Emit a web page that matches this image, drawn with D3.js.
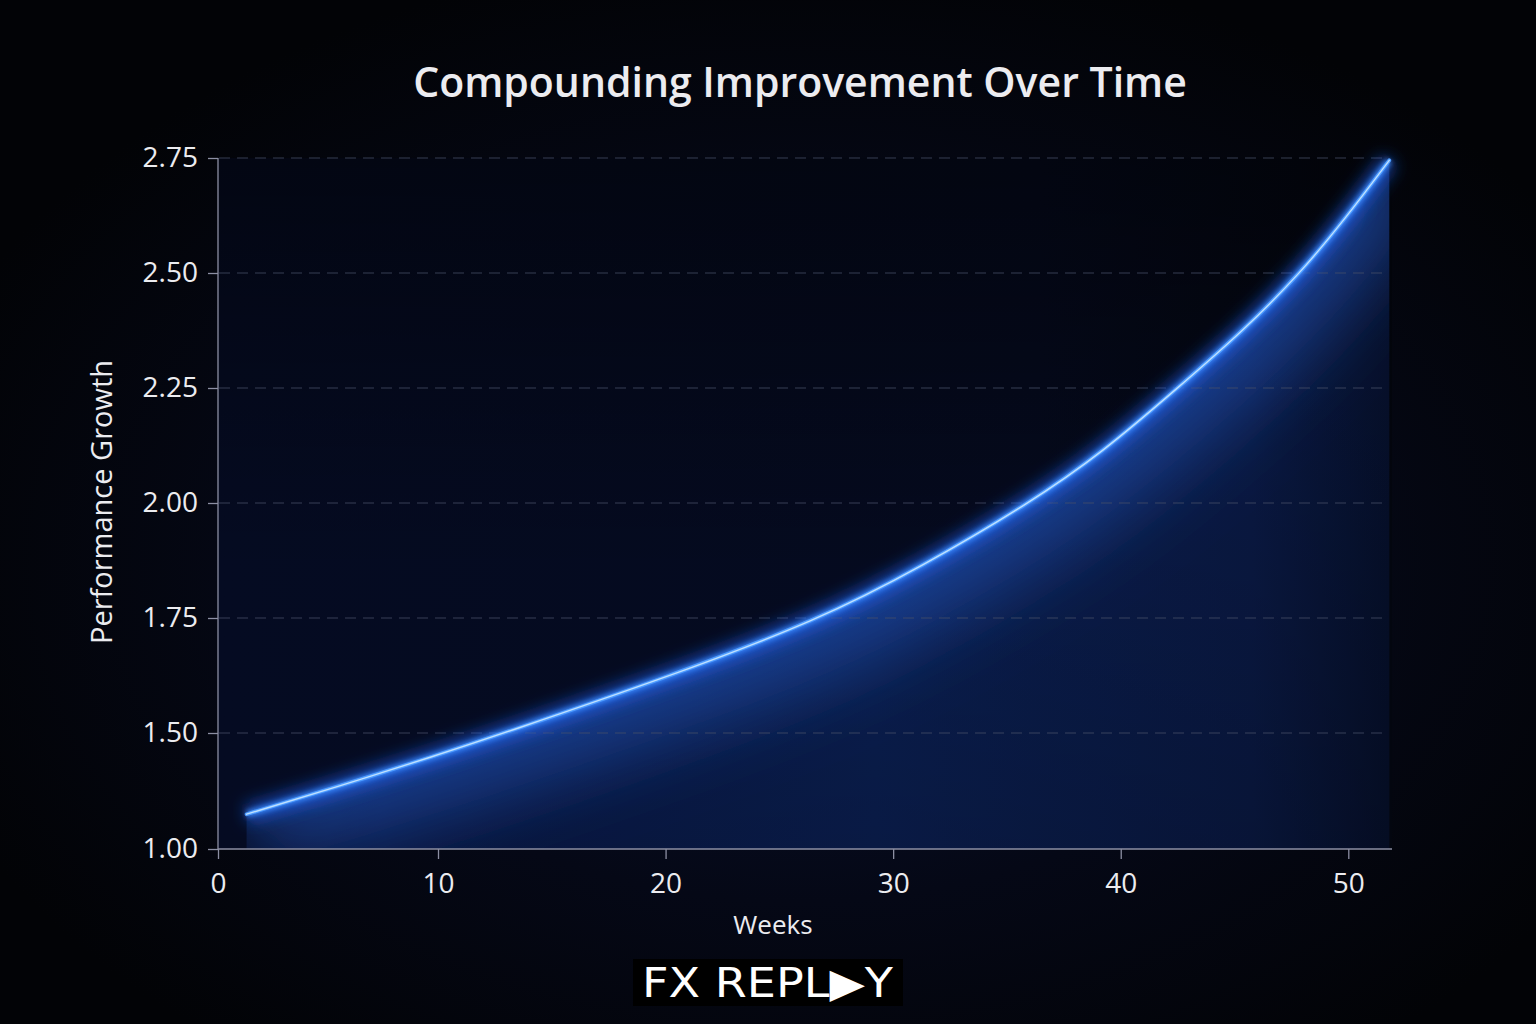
<!DOCTYPE html>
<html>
<head>
<meta charset="utf-8">
<script src="https://cdn.jsdelivr.net/npm/d3@7/dist/d3.min.js"></script>
<style>
  html, body { margin: 0; padding: 0; background: #030408; }
  svg { display: block; }
</style>
</head>
<body>
<svg id="chart" width="1536" height="1024"></svg>
<script>
// ---- data ----
const weeks  = [1.3, 5.3, 10, 12.9, 20, 26.7, 31.3, 36.0, 39.2, 42.5, 45.4, 47.9, 49.9, 51.8];
const growth = [1.15, 1.265, 1.405, 1.50, 1.62, 1.745, 1.863, 2.00, 2.11, 2.25, 2.375, 2.50, 2.62, 2.745];
const xTicks = [0, 10, 20, 30, 40, 50];
const yTicks = [1.00, 1.50, 1.75, 2.00, 2.25, 2.50, 2.75];
const title = "Compounding Improvement Over Time";
const xLabel = "Weeks";
const yLabel = "Performance Growth";
const logoText = "FX REPL\u25B6Y";

const data = weeks.map((w, i) => ({ w, v: growth[i] }));

const svg = d3.select("#chart");
const W = 1536, H = 1024;
const pL = 218, pR = 1392, pT = 158, pB = 849;

// axis in the reference is not uniform (1.00 -> 1.50 spans one grid step)
const x = d3.scaleLinear().domain([0, 10, 50]).range([218, 438, 1348.3]);
const y = d3.scaleLinear().domain([1.0, 1.5, 2.75]).range([849, 733, 158]);

const defs = svg.append("defs");

// background radial glow
const bgGrad = defs.append("radialGradient").attr("id", "bgGrad")
  .attr("cx", "52%").attr("cy", "55%").attr("r", "60%");
bgGrad.append("stop").attr("offset", "0%").attr("stop-color", "#081230");
bgGrad.append("stop").attr("offset", "55%").attr("stop-color", "#050816");
bgGrad.append("stop").attr("offset", "100%").attr("stop-color", "#020306");

svg.append("rect").attr("width", W).attr("height", H).attr("fill", "#030408");
svg.append("rect").attr("width", W).attr("height", H).attr("fill", "url(#bgGrad)");

// plot area gradient
const plotGrad = defs.append("linearGradient").attr("id", "plotGrad")
  .attr("x1", "0").attr("y1", "0").attr("x2", "1").attr("y2", "0");
plotGrad.append("stop").attr("offset", "0%").attr("stop-color", "#050b22");
plotGrad.append("stop").attr("offset", "70%").attr("stop-color", "#050a1e");
plotGrad.append("stop").attr("offset", "100%").attr("stop-color", "#03060f");
const plotGradV = defs.append("linearGradient").attr("id", "plotGradV")
  .attr("x1", "0").attr("y1", "0").attr("x2", "0").attr("y2", "1");
plotGradV.append("stop").attr("offset", "0%").attr("stop-color", "#000").attr("stop-opacity", 0.45);
plotGradV.append("stop").attr("offset", "60%").attr("stop-color", "#000").attr("stop-opacity", 0.0);

svg.append("rect").attr("x", pL).attr("y", pT).attr("width", pR - pL).attr("height", pB - pT)
  .attr("fill", "url(#plotGrad)");
svg.append("rect").attr("x", pL).attr("y", pT).attr("width", pR - pL).attr("height", pB - pT)
  .attr("fill", "url(#plotGradV)");

const curveType = d3.curveBasis;
const lineGen = d3.line().x(d => x(d.w)).y(d => y(d.v)).curve(curveType);
const areaGen = d3.area().x(d => x(d.w)).y0(pB).y1(d => y(d.v)).curve(curveType);

// area clip (under curve)
defs.append("clipPath").attr("id", "areaClip")
  .append("path").attr("d", areaGen(data));

// under-curve fill (soft start on the left)
const areaGrad = defs.append("linearGradient").attr("id", "areaGrad")
  .attr("x1", "0").attr("y1", "0").attr("x2", "1").attr("y2", "0");
areaGrad.append("stop").attr("offset", "0%").attr("stop-color", "#060e2c");
areaGrad.append("stop").attr("offset", "12%").attr("stop-color", "#09194a");
areaGrad.append("stop").attr("offset", "55%").attr("stop-color", "#0b2157");
areaGrad.append("stop").attr("offset", "88%").attr("stop-color", "#0a1a46");
areaGrad.append("stop").attr("offset", "100%").attr("stop-color", "#06102c");

svg.append("path").attr("d", areaGen(data)).attr("fill", "url(#areaGrad)");

// vertical darkening toward the bottom inside area
const areaDark = defs.append("linearGradient").attr("id", "areaDark")
  .attr("gradientUnits", "userSpaceOnUse").attr("x1", 0).attr("y1", pT).attr("x2", 0).attr("y2", pB);
areaDark.append("stop").attr("offset", "0%").attr("stop-color", "#000").attr("stop-opacity", 0);
areaDark.append("stop").attr("offset", "100%").attr("stop-color", "#000").attr("stop-opacity", 0.22);
svg.append("path").attr("d", areaGen(data)).attr("fill", "url(#areaDark)");

// glow filters
const f1 = defs.append("filter").attr("id", "wideGlow")
  .attr("filterUnits", "userSpaceOnUse").attr("x", 0).attr("y", 0).attr("width", W).attr("height", H);
f1.append("feGaussianBlur").attr("stdDeviation", 38);
const f2 = defs.append("filter").attr("id", "midGlow")
  .attr("filterUnits", "userSpaceOnUse").attr("x", 0).attr("y", 0).attr("width", W).attr("height", H);
f2.append("feGaussianBlur").attr("stdDeviation", 8);
const f3 = defs.append("filter").attr("id", "tightGlow")
  .attr("filterUnits", "userSpaceOnUse").attr("x", 0).attr("y", 0).attr("width", W).attr("height", H);
f3.append("feGaussianBlur").attr("stdDeviation", 2.5);

// broad light below the curve
const innerG = svg.append("g").attr("clip-path", "url(#areaClip)");
innerG.append("path").attr("d", lineGen(data)).attr("fill", "none")
  .attr("stroke", "#2a6ae8").attr("stroke-width", 110).attr("stroke-opacity", 0.45)
  .attr("filter", "url(#wideGlow)");

// gridlines
const gridG = svg.append("g");
gridG.selectAll("line.grid").data(yTicks.filter(t => t > 1.0)).join("line")
  .attr("class", "grid")
  .attr("x1", pL + 1).attr("x2", pR - 4)
  .attr("y1", d => y(d)).attr("y2", d => y(d))
  .attr("stroke", "#4a5068").attr("stroke-opacity", 0.75).attr("stroke-width", 1.2)
  .attr("stroke-dasharray", "11 7");

// line glow layers
const glowG = svg.append("g");
glowG.append("path").attr("d", lineGen(data)).attr("fill", "none")
  .attr("stroke", "#1f66ff").attr("stroke-width", 18).attr("stroke-opacity", 0.6)
  .attr("filter", "url(#midGlow)");
glowG.append("path").attr("d", lineGen(data)).attr("fill", "none")
  .attr("stroke", "#3d8bff").attr("stroke-width", 7).attr("stroke-opacity", 0.85)
  .attr("filter", "url(#tightGlow)");
glowG.append("path").attr("d", lineGen(data)).attr("fill", "none")
  .attr("stroke", "#4f9dff").attr("stroke-width", 3.8).attr("stroke-linecap", "round");
glowG.append("path").attr("d", lineGen(data)).attr("fill", "none")
  .attr("stroke", "#bfe0ff").attr("stroke-width", 1.4).attr("stroke-linecap", "round");

// axes
const axisColor = "#8c8fa3";
const fontFam = "'Open Sans', 'Noto Sans', sans-serif";

const yAxis = svg.append("g").attr("transform", `translate(${pL},0)`)
  .call(d3.axisLeft(y).tickValues(yTicks).tickFormat(d3.format(".2f")).tickSize(10).tickPadding(10));
const xAxis = svg.append("g").attr("transform", `translate(0,${pB})`)
  .call(d3.axisBottom(x).tickValues(xTicks).tickFormat(d3.format("d")).tickSize(10).tickPadding(14));

[yAxis, xAxis].forEach(g => {
  g.select(".domain").attr("stroke", axisColor).attr("stroke-width", 1.3);
  g.selectAll(".tick line").attr("stroke", axisColor).attr("stroke-width", 1.3);
  g.selectAll(".tick text").attr("fill", "#ececf0").attr("font-size", 28)
    .attr("font-family", fontFam);
});
yAxis.select(".domain").attr("d", `M0,${pT}V${pB}`);
xAxis.select(".domain").attr("d", `M${pL},0H${pR}`);

// title
svg.append("text").attr("x", 800).attr("y", 97).attr("text-anchor", "middle")
  .attr("fill", "#ececf0").attr("font-size", 41).attr("font-family", fontFam)
  .attr("font-weight", 600).text(title);

// axis labels
svg.append("text").attr("x", 773).attr("y", 934).attr("text-anchor", "middle")
  .attr("fill", "#ececf0").attr("font-size", 26).attr("font-family", fontFam).text(xLabel);
svg.append("text").attr("transform", "translate(112,502) rotate(-90)").attr("text-anchor", "middle")
  .attr("fill", "#ececf0").attr("font-size", 29).attr("font-family", fontFam).text(yLabel);

// logo
svg.append("rect").attr("x", 633).attr("y", 959).attr("width", 270).attr("height", 47).attr("fill", "#000");
svg.append("text").attr("x", 642).attr("y", 997)
  .attr("textLength", 251).attr("lengthAdjust", "spacingAndGlyphs")
  .attr("fill", "#ffffff").attr("font-size", 41).attr("font-weight", 500)
  .attr("font-family", "'DejaVu Sans', sans-serif").text(logoText);
</script>
</body>
</html>
